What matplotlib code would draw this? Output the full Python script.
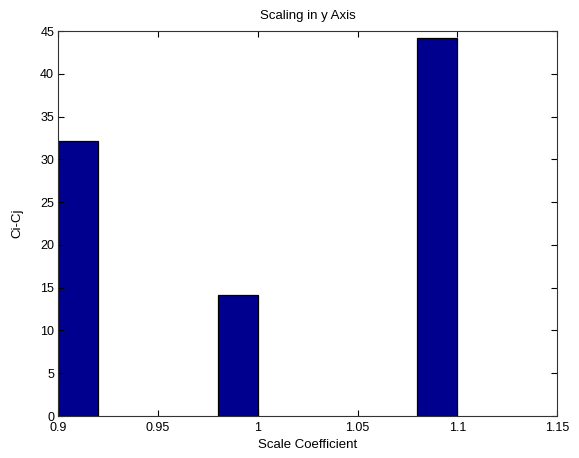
import matplotlib
matplotlib.use("Agg")
import matplotlib.pyplot as plt

plt.rcParams['font.family'] = ['Liberation Sans', 'DejaVu Sans']

bar_left = [0.90, 0.98, 1.08]
bar_width = 0.02
values = [32.2, 14.2, 44.2]
xticks = [0.9, 0.95, 1.0, 1.05, 1.1, 1.15]
xticklabels = ["0.9", "0.95", "1", "1.05", "1.1", "1.15"]
yticks = list(range(0, 50, 5))

fig = plt.figure(figsize=(5.79, 4.58), dpi=100)
ax = fig.add_axes([0.1007, 0.0917, 0.8613, 0.8406])
ax.bar(bar_left, values, width=bar_width, align='edge', color='#00008F',
       edgecolor='black', linewidth=0.9)
ax.set_xlim(0.9, 1.15)
ax.set_ylim(0, 45)
ax.set_xticks(xticks)
ax.set_xticklabels(xticklabels)
ax.set_yticks(yticks)
ax.tick_params(direction='in', top=True, right=True, labelsize=9, length=4, width=0.8)
ax.tick_params(axis='x', pad=4)
ax.tick_params(axis='y', pad=3)
for s in ax.spines.values():
    s.set_linewidth(0.8)
    s.set_color('#333333')
ax.set_title("Scaling in y Axis", fontsize=9.5, pad=9)
ax.set_xlabel("Scale Coefficient", fontsize=9.5, labelpad=4)
ax.set_ylabel("Ci-Cj", fontsize=9.5, labelpad=12)
fig.savefig("out.png", dpi=100)
